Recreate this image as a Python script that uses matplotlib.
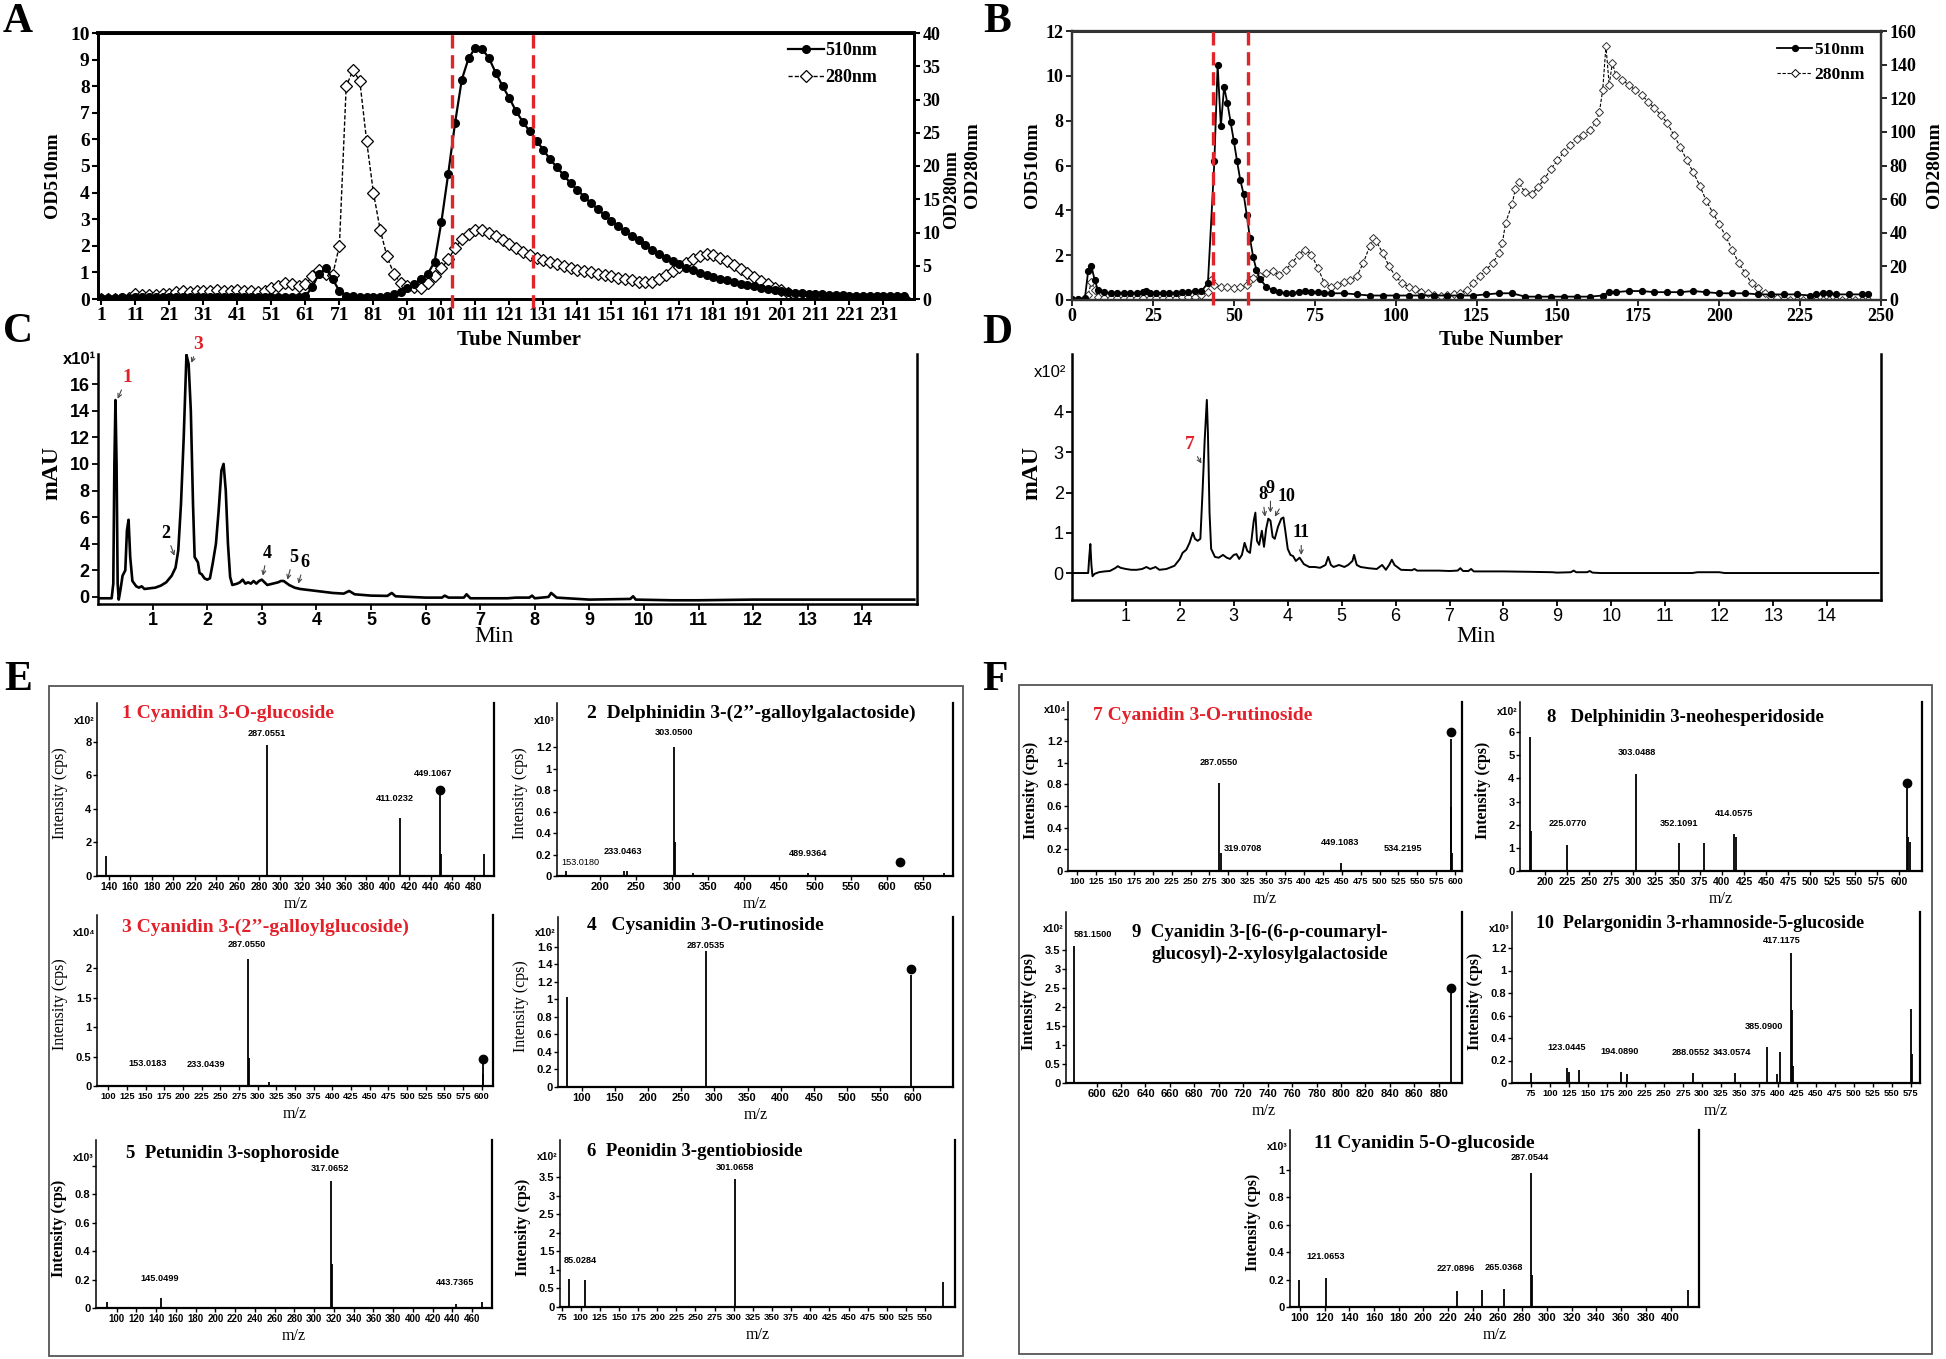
import numpy as np
import matplotlib
matplotlib.use("Agg")
import matplotlib.pyplot as plt
from matplotlib.lines import Line2D
from matplotlib.patches import Rectangle

# ======================= DATA =======================
# Panel A (tube number, OD510 left axis / OD280 right axis)
tubes_A = np.arange(1, 238, 2)
A_510 = [
    0.05, 0.05, 0.05, 0.06, 0.05, 0.06, 0.06, 0.07, 0.06, 0.07,
    0.07, 0.08, 0.07, 0.08, 0.08, 0.08, 0.08, 0.09, 0.08, 0.09,
    0.09, 0.09, 0.08, 0.09, 0.09, 0.08, 0.08, 0.08, 0.09, 0.09,
    0.10, 0.45, 0.95, 1.15, 0.75, 0.30, 0.12, 0.10, 0.08, 0.08,
    0.08, 0.09, 0.12, 0.18, 0.28, 0.42, 0.55, 0.75, 0.95, 1.40,
    2.90, 4.70, 6.60, 8.25, 9.05, 9.45, 9.40, 9.05, 8.50, 8.00,
    7.55, 7.05, 6.65, 6.30, 5.95, 5.60, 5.25, 4.95, 4.65, 4.35,
    4.10, 3.85, 3.60, 3.38, 3.15, 2.95, 2.75, 2.55, 2.37, 2.20,
    2.02, 1.86, 1.70, 1.56, 1.43, 1.30, 1.18, 1.08, 0.99, 0.91,
    0.84, 0.77, 0.70, 0.64, 0.58, 0.52, 0.47, 0.42, 0.38, 0.34,
    0.30, 0.27, 0.24, 0.22, 0.20, 0.18, 0.17, 0.16, 0.15, 0.14,
    0.13, 0.13, 0.12, 0.12, 0.12, 0.11, 0.11, 0.11, 0.10]
A_280 = [
    0, 0, 0, 0, 0.2, 0.8, 0.6, 0.6, 0.6, 0.8,
    0.8, 1.0, 1.2, 1.0, 1.2, 1.2, 1.2, 1.4, 1.2, 1.2,
    1.4, 1.2, 1.2, 1.0, 1.2, 1.6, 2.0, 2.4, 2.2, 2.0,
    2.2, 3.4, 4.4, 3.8, 3.6, 8.0, 32.0, 34.4, 32.8, 23.8,
    16.0, 10.4, 6.4, 3.8, 2.4, 2.0, 1.8, 1.6, 2.4, 3.4,
    4.6, 6.0, 7.6, 9.0, 9.8, 10.4, 10.4, 10.0, 9.4, 8.8,
    8.2, 7.6, 7.1, 6.6, 6.2, 5.9, 5.5, 5.2, 4.9, 4.6,
    4.4, 4.2, 4.0, 3.8, 3.6, 3.4, 3.2, 3.0, 2.8, 2.6,
    2.5, 2.6, 3.0, 3.6, 4.2, 4.8, 5.4, 6.0, 6.5, 6.8,
    6.6, 6.2, 5.7, 5.1, 4.5, 3.9, 3.3, 2.7, 2.2, 1.7,
    1.3, 0.9, 0.6, 0.4, 0.3, 0.2, 0.2, 0.2, 0.2, 0.2,
    0.2, 0.2, 0.2, 0.2, 0.2, 0.2, 0.2, 0.2, 0.2]
A_cut = [104, 128]
A_xticks = list(range(1, 232, 10))

# Panel B (tube, value)
B_510 = [(0, 0.05), (2, 0.05), (4, 0.1), (5, 1.3), (6, 1.5), (7, 0.9), (8, 0.45), (10, 0.35),
         (12, 0.3), (14, 0.3), (16, 0.3), (18, 0.3), (20, 0.3), (22, 0.35), (23, 0.4), (24, 0.3),
         (26, 0.3), (28, 0.3), (30, 0.3), (32, 0.3), (34, 0.35), (36, 0.35), (38, 0.4), (40, 0.4),
         (42, 0.75), (44, 6.2), (45, 10.5), (46, 7.75), (47, 9.5), (48, 8.8), (49, 7.95), (50, 7.1),
         (51, 6.2), (52, 5.35), (53, 4.75), (54, 3.8), (55, 2.75), (56, 1.9), (57, 1.35), (58, 0.95),
         (60, 0.6), (62, 0.45), (64, 0.35), (66, 0.3), (68, 0.3), (70, 0.35), (72, 0.4), (74, 0.35),
         (76, 0.35), (78, 0.3), (80, 0.3), (84, 0.3), (88, 0.25), (92, 0.2), (96, 0.2), (100, 0.2),
         (104, 0.2), (108, 0.2), (112, 0.2), (116, 0.2), (120, 0.2), (124, 0.2), (128, 0.25),
         (132, 0.3), (136, 0.3), (140, 0.15), (144, 0.15), (148, 0.15), (152, 0.15), (156, 0.15),
         (160, 0.15), (164, 0.2), (166, 0.35), (168, 0.35), (172, 0.4), (176, 0.4), (180, 0.35),
         (184, 0.35), (188, 0.35), (192, 0.4), (196, 0.35), (200, 0.3), (204, 0.3), (208, 0.3),
         (212, 0.25), (216, 0.25), (220, 0.25), (224, 0.25), (228, 0.2), (230, 0.25), (232, 0.3),
         (234, 0.3), (236, 0.25), (240, 0.25), (244, 0.25), (246, 0.25)]
B_280 = [(0, 0), (2, 0), (4, 0), (5, 3), (6, 11), (7, 6), (8, 2), (10, 1), (12, 1), (14, 1), (16, 1),
         (18, 1), (20, 1), (22, 1), (24, 1), (26, 1), (28, 1), (30, 1), (32, 1), (34, 2), (36, 2),
         (38, 2), (40, 3), (42, 5), (43, 12), (44, 9), (46, 8), (48, 8), (50, 7), (52, 8), (54, 9),
         (55, 12), (56, 13), (58, 14), (60, 16), (62, 17), (64, 15), (66, 18), (68, 22), (70, 27),
         (72, 30), (74, 27), (76, 19), (78, 10), (80, 8), (82, 9), (84, 11), (86, 12), (88, 14),
         (90, 22), (92, 32), (93, 37), (94, 35), (96, 28), (98, 20), (100, 14), (102, 10), (104, 8),
         (106, 6.5), (108, 5), (110, 4), (112, 3), (114, 2.5), (116, 3), (118, 3.5), (120, 4),
         (122, 6), (124, 10), (126, 14), (128, 18), (130, 22), (132, 28), (133, 34), (134, 46),
         (136, 57), (137, 66), (138, 70), (140, 64), (142, 63), (144, 67), (146, 72), (148, 78),
         (150, 83), (152, 88), (154, 92), (156, 96), (158, 98), (160, 101), (162, 106), (163, 112),
         (164, 125), (165, 151), (166, 128), (167, 141), (168, 134), (170, 131), (172, 128),
         (174, 125), (176, 122), (178, 118), (180, 114), (182, 110), (184, 105), (186, 98),
         (188, 91), (190, 83), (192, 76), (194, 68), (196, 59), (198, 52), (200, 45), (202, 38),
         (204, 30), (206, 22), (208, 16), (210, 10), (212, 7), (214, 4), (216, 2), (218, 1),
         (220, 0.5), (222, 0), (224, 0), (226, 0), (228, 0), (230, 0), (232, 0), (234, 0),
         (236, 0), (238, 0), (240, 0), (242, 0), (244, 0), (246, 0)]
B_cut = [43.5, 54.5]
B_xticks = list(range(0, 251, 25))

# Panel C chromatogram (min, mAU x10)
C_trace = [(0.0, -0.1), (0.25, -0.1), (0.28, 1), (0.3, 10), (0.32, 14.8), (0.34, 10), (0.36, 1),
           (0.38, -0.2), (0.41, 0.5), (0.45, 1.6), (0.5, 2), (0.53, 5), (0.56, 5.8), (0.59, 3),
           (0.63, 1.2), (0.7, 0.8), (0.75, 0.7), (0.8, 0.8), (0.85, 0.6), (0.95, 0.65), (1.05, 0.7),
           (1.15, 0.85), (1.25, 1.1), (1.35, 1.6), (1.42, 2.2), (1.47, 3.5), (1.52, 7), (1.57, 12),
           (1.62, 18.2), (1.66, 17.5), (1.7, 14), (1.74, 7), (1.77, 3), (1.8, 2.8), (1.83, 2.6),
           (1.86, 1.8), (1.9, 1.7), (1.95, 1.4), (2.0, 1.3), (2.05, 1.4), (2.1, 2.5), (2.16, 4),
           (2.21, 6.5), (2.26, 9.5), (2.3, 10), (2.34, 8), (2.38, 4), (2.42, 1.5), (2.46, 0.9),
           (2.55, 1.0), (2.6, 1.1), (2.65, 1.3), (2.7, 1.0), (2.75, 1.1), (2.8, 1.0), (2.85, 1.2),
           (2.9, 1.0), (2.95, 1.2), (3.0, 1.3), (3.05, 1.1), (3.1, 0.9), (3.2, 1.0), (3.3, 1.1),
           (3.35, 1.2), (3.4, 1.2), (3.5, 0.9), (3.6, 0.7), (3.7, 0.6), (3.9, 0.5), (4.1, 0.4),
           (4.3, 0.3), (4.5, 0.25), (4.6, 0.45), (4.7, 0.2), (5.0, 0.1), (5.3, 0.08), (5.38, 0.3),
           (5.45, 0.05), (6.0, -0.05), (6.3, -0.05), (6.35, 0.1), (6.42, -0.05), (6.7, -0.05),
           (6.75, 0.2), (6.82, -0.1), (7.5, -0.1), (7.65, -0.05), (7.9, -0.05), (7.95, 0.1),
           (8.0, -0.1), (8.25, 0.0), (8.3, 0.3), (8.4, -0.05), (9.0, -0.2), (9.75, -0.15),
           (9.8, 0.05), (9.85, -0.2), (10.5, -0.25), (11, -0.25), (12, -0.2), (13, -0.2),
           (14, -0.2), (14.95, -0.2)]
C_labels = ["1", "2", "3", "4", "5", "6"]
C_label_xy = [(0.53, 16.5), (1.25, 4.8), (1.84, 19.0), (3.1, 3.3), (3.58, 3.0), (3.78, 2.6)]
C_arrow_xy = [(0.36, 14.9), (1.4, 3.1), (1.71, 17.6), (3.02, 1.6), (3.47, 1.3), (3.67, 1.0)]
C_label_red = [True, False, True, False, False, False]

# Panel D chromatogram (min, mAU x10^2)
D_trace = [(0.0, 0), (0.3, 0), (0.32, 0.4), (0.34, 0.72), (0.36, 0.2), (0.38, -0.08), (0.42, -0.02),
           (0.5, 0.02), (0.6, 0.04), (0.7, 0.05), (0.8, 0.12), (0.85, 0.17), (0.9, 0.13), (1.0, 0.1),
           (1.1, 0.08), (1.2, 0.08), (1.3, 0.1), (1.38, 0.15), (1.45, 0.1), (1.55, 0.15), (1.62, 0.08),
           (1.75, 0.1), (1.9, 0.18), (2.0, 0.35), (2.05, 0.5), (2.12, 0.58), (2.18, 0.75), (2.24, 1.0),
           (2.28, 0.85), (2.33, 0.8), (2.38, 0.85), (2.42, 2.0), (2.46, 3.3), (2.5, 4.3), (2.52, 3.5),
           (2.55, 1.5), (2.58, 0.6), (2.65, 0.4), (2.72, 0.38), (2.8, 0.45), (2.87, 0.38), (2.93, 0.35),
           (3.0, 0.45), (3.05, 0.47), (3.1, 0.35), (3.15, 0.45), (3.2, 0.75), (3.25, 0.55), (3.3, 0.5),
           (3.37, 1.3), (3.4, 1.5), (3.43, 0.8), (3.47, 0.7), (3.52, 1.05), (3.56, 0.65), (3.6, 1.1),
           (3.64, 1.35), (3.68, 1.3), (3.72, 0.9), (3.76, 0.85), (3.82, 1.15), (3.88, 1.35),
           (3.92, 1.38), (3.96, 1.0), (4.0, 0.6), (4.05, 0.45), (4.1, 0.42), (4.15, 0.3), (4.22, 0.38),
           (4.3, 0.22), (4.4, 0.15), (4.5, 0.15), (4.6, 0.13), (4.7, 0.2), (4.75, 0.4), (4.8, 0.2),
           (4.85, 0.15), (4.95, 0.2), (5.05, 0.15), (5.12, 0.2), (5.2, 0.3), (5.23, 0.45), (5.28, 0.2),
           (5.35, 0.15), (5.5, 0.12), (5.65, 0.1), (5.75, 0.2), (5.82, 0.08), (5.88, 0.2), (5.93, 0.33),
           (5.98, 0.2), (6.1, 0.08), (6.3, 0.07), (6.35, 0.1), (6.4, 0.06), (6.8, 0.06), (7.0, 0.05),
           (7.15, 0.06), (7.2, 0.12), (7.25, 0.05), (7.35, 0.05), (7.4, 0.1), (7.45, 0.04), (7.6, 0.04),
           (8.0, 0.04), (8.5, 0.03), (8.9, 0.02), (9.0, 0.01), (9.25, 0.02), (9.3, 0.06), (9.35, 0.02),
           (9.55, 0.02), (9.6, 0.05), (9.65, 0.01), (9.8, 0.0), (10, 0), (11, 0), (11.5, 0.0),
           (11.6, 0.02), (12.0, 0.02), (12.1, 0.0), (13, 0), (14, 0), (14.95, 0)]
D_labels = ["7", "8", "9", "10", "11"]
D_label_xy = [(2.19, 3.2), (3.53, 1.95), (3.68, 2.1), (3.98, 1.9), (4.25, 1.0)]
D_arrow_xy = [(2.4, 2.72), (3.58, 1.4), (3.68, 1.5), (3.76, 1.4), (4.25, 0.45)]
D_label_red = [True, False, False, False, False]

# MS/MS spectra (m/z, relative intensity in the panel's x10^n units)
s1_title = "1 Cyanidin 3-O-glucoside"
s1_mz = [137, 287.06, 411.02, 449.11, 449.9, 490]
s1_int = [1.2, 7.8, 3.45, 5.0, 1.3, 1.3]
s1_prec = [449.11, 5.1]
s1_ann_text = ["287.0551", "411.0232", "449.1067"]
s1_ann_mz = [287, 407, 442]
s1_ann_y = [8.5, 4.6, 6.1]

s2_title = "2  Delphinidin 3-(2\u2019\u2019-galloylgalactoside)"
s2_mz = [153, 233, 237, 303.05, 304, 330, 490, 618, 680]
s2_int = [0.05, 0.05, 0.05, 1.2, 0.32, 0.03, 0.03, 0.01, 0.03]
s2_prec = [618, 0.13]
s2_ann_text = ["153.0180", "233.0463", "303.0500", "489.9364"]
s2_ann_mz = [172, 232, 303, 490]
s2_ann_y = [0.13, 0.23, 1.34, 0.21]

s3_title = "3 Cyanidin 3-(2\u2019\u2019-galloylglucoside)"
s3_mz = [153, 233, 287.06, 288, 315, 601, 602]
s3_int = [0.01, 0.01, 2.15, 0.48, 0.06, 0.42, 0.2]
s3_prec = [601, 0.45]
s3_ann_text = ["153.0183", "233.0439", "287.0550"]
s3_ann_mz = [153, 231, 286]
s3_ann_y = [0.39, 0.37, 2.4]

s4_title = "4   Cysanidin 3-O-rutinoside"
s4_mz = [77, 287.05, 597]
s4_int = [1.03, 1.55, 1.28]
s4_prec = [597, 1.35]
s4_ann_text = ["287.0535"]
s4_ann_mz = [287]
s4_ann_y = [1.61]

s5_title = "5  Petunidin 3-sophoroside"
s5_mz = [90, 145.05, 317.07, 317.6, 443.7, 470]
s5_int = [0.04, 0.07, 0.89, 0.31, 0.03, 0.04]
s5_prec = None
s5_ann_text = ["145.0499", "317.0652", "443.7365"]
s5_ann_mz = [143, 316, 443]
s5_ann_y = [0.21, 0.98, 0.18]

s6_title = "6  Peonidin 3-gentiobioside"
s6_mz = [85.03, 106, 301.07, 573]
s6_int = [0.75, 0.73, 3.45, 0.68]
s6_prec = None
s6_ann_text = ["85.0284", "301.0658"]
s6_ann_mz = [100, 301]
s6_ann_y = [1.24, 3.75]

s7_title = "7 Cyanidin 3-O-rutinoside"
s7_mz = [287.06, 290, 449.11, 594, 595, 596]
s7_int = [0.81, 0.17, 0.07, 1.22, 0.59, 0.17]
s7_prec = [594, 1.28]
s7_ann_text = ["287.0550", "319.0708", "449.1083", "534.2195"]
s7_ann_mz = [288, 319, 448, 531]
s7_ann_y = [1.0, 0.21, 0.26, 0.21]

s8_title = "8   Delphinidin 3-neohesperidoside"
s8_mz = [183, 184.5, 225.08, 303.05, 352.11, 380, 414.06, 416, 609, 610.5, 613]
s8_int = [5.8, 1.73, 1.12, 4.18, 1.2, 1.2, 1.6, 1.45, 3.58, 1.46, 1.25]
s8_prec = [609, 3.8]
s8_ann_text = ["225.0770", "303.0488", "352.1091", "414.0575"]
s8_ann_mz = [226, 304, 352, 414]
s8_ann_y = [2.05, 5.1, 2.07, 2.5]

s9_title = ["9  Cyanidin 3-[6-(6-\u03c1-coumaryl-", "glucosyl)-2-xylosylgalactoside"]
s9_mz = [581.15, 890]
s9_int = [3.6, 2.37]
s9_prec = [890, 2.5]
s9_ann_text = ["581.1500"]
s9_ann_mz = [597]
s9_ann_y = [3.9]

s10_title = "10  Pelargonidin 3-rhamnoside-5-glucoside"
s10_mz = [75, 123.04, 125, 138, 194.09, 201, 288.06, 343.06, 385.09, 399, 403, 417.12, 418.5, 420, 575, 577]
s10_int = [0.09, 0.13, 0.10, 0.12, 0.10, 0.08, 0.09, 0.09, 0.32, 0.08, 0.28, 1.16, 0.65, 0.15, 0.66, 0.26]
s10_prec = None
s10_ann_text = ["123.0445", "194.0890", "288.0552", "343.0574", "385.0900", "417.1175"]
s10_ann_mz = [122, 192, 285, 339, 382, 405]
s10_ann_y = [0.32, 0.28, 0.27, 0.27, 0.50, 1.27]

s11_title = "11 Cyanidin 5-O-glucoside"
s11_mz = [99, 121.07, 227.09, 247, 265.04, 287.05, 288, 414]
s11_int = [0.2, 0.21, 0.12, 0.125, 0.13, 0.98, 0.23, 0.125]
s11_prec = None
s11_ann_text = ["121.0653", "227.0896", "265.0368", "287.0544"]
s11_ann_mz = [121, 226, 265, 286]
s11_ann_y = [0.37, 0.28, 0.29, 1.09]

# ======================= FIGURE =======================
W, H = 1946, 1359
fig = plt.figure(figsize=(W / 100, H / 100), dpi=100)
fig.patch.set_facecolor("white")

SERIF = ["Liberation Serif", "DejaVu Serif"]
NARROW = ["Liberation Sans Narrow", "Liberation Sans", "DejaVu Sans"]
RED = "#e3202a"
CUTRED = "#e0262b"


def px_axes(l, t, r, b):
    return fig.add_axes([l / W, 1 - b / H, (r - l) / W, (b - t) / H])


def ftext(x, y, s, **kw):
    return fig.text(x / W, 1 - y / H, s, **kw)


def fmt(v):
    return ("%g" % round(v, 3))


# ---------- panel letters ----------
for letter, (x, y) in zip("ABCDEF", [(18, 22), (997, 22), (18, 332), (997, 333), (18, 680), (995, 680)]):
    ftext(x, y, letter, fontsize=30, fontweight="bold", family=SERIF, ha="center", va="center")

# ---------- Panel A ----------
axA = px_axes(98, 33, 914, 299)
axA2 = axA.twinx()
axA2.plot(tubes_A, A_280, color="black", lw=1.0, ls=(0, (3, 1.5)), marker="D", ms=6,
          mfc="white", mec="black", mew=0.9, zorder=2)
axA.plot(tubes_A, A_510, color="black", lw=1.6, marker="o", ms=5.5, mfc="black", mec="black", zorder=3)
axA.set_zorder(axA2.get_zorder() + 1)
axA.patch.set_visible(False)
axA.set_xlim(0, 240)
axA.set_ylim(0, 10)
axA2.set_ylim(0, 40)
axA.set_xticks(A_xticks, labels=[str(v) for v in A_xticks], fontsize=14, fontweight="bold", family=SERIF)
axA.set_yticks(range(0, 11), labels=[str(v) for v in range(0, 11)], fontsize=14, fontweight="bold", family=SERIF)
axA2.set_yticks(range(0, 41, 5), labels=[str(v) for v in range(0, 41, 5)], fontsize=13, fontweight="bold", family=SERIF)
for a in (axA, axA2):
    for s in a.spines.values():
        s.set_linewidth(2.0)
    a.tick_params(direction="out", length=4, width=1.5, pad=2)
axA.spines["top"].set_linewidth(2.8)
for xc in A_cut:
    axA.axvline(xc, ymin=-0.035, ymax=1.0, color=CUTRED, lw=2.4, ls=(0, (4, 2)), clip_on=False, zorder=5)
hA = [Line2D([], [], color="black", lw=1.6, marker="o", ms=5.5),
      Line2D([], [], color="black", lw=1.0, ls=(0, (3, 1.5)), marker="D", ms=6, mfc="white", mew=0.9)]
axA.legend(hA, ["510nm", "280nm"], loc="upper left", bbox_to_anchor=(0.845, 0.965), frameon=False,
           prop=dict(family=SERIF, weight="bold", size=13), handlelength=2.0, handletextpad=0.1,
           labelspacing=0.55, borderpad=0, borderaxespad=0)
ftext(52, 175, "OD510nm", rotation=90, fontsize=14, fontweight="bold", family=SERIF, ha="center", va="center")
ftext(952, 190, "OD280nm", rotation=90, fontsize=13, fontweight="bold", family=SERIF, ha="center", va="center")
ftext(519, 340, "Tube Number", fontsize=15, fontweight="bold", family=SERIF, ha="center", va="center")

# ---------- Panel B ----------
b510 = np.array(B_510)
b280 = np.array(B_280)
axB = px_axes(1072, 31, 1881, 300)
axB2 = axB.twinx()
axB2.plot(b280[:, 0], b280[:, 1], color="black", lw=0.8, ls=(0, (3, 1.5)), marker="D", ms=4.5,
          mfc="white", mec="#333333", mew=0.7)
axB.plot(b510[:, 0], b510[:, 1], color="black", lw=1.3, marker="o", ms=4.2, mfc="black", mec="black")
axB.set_zorder(axB2.get_zorder() + 1)
axB.patch.set_visible(False)
axB.set_xlim(0, 250)
axB.set_ylim(0, 12)
axB2.set_ylim(0, 160)
axB.set_xticks(B_xticks, labels=[str(v) for v in B_xticks], fontsize=13, fontweight="bold", family=SERIF)
axB.set_yticks(range(0, 13, 2), labels=[str(v) for v in range(0, 13, 2)], fontsize=13, fontweight="bold", family=SERIF)
axB2.set_yticks(range(0, 161, 20), labels=[str(v) for v in range(0, 161, 20)], fontsize=13, fontweight="bold", family=SERIF)
for a in (axB, axB2):
    for s in a.spines.values():
        s.set_linewidth(1.6)
        s.set_color("#333333")
    a.tick_params(direction="out", length=4, width=1.2, pad=2)
axB.spines["top"].set_linewidth(2.2)
for xc in B_cut:
    axB.axvline(xc, ymin=-0.02, ymax=1.022, color=CUTRED, lw=2.4, ls=(0, (4, 2)), clip_on=False, zorder=5)
hB = [Line2D([], [], color="black", lw=1.3, marker="o", ms=4.2),
      Line2D([], [], color="black", lw=0.8, ls=(0, (3, 1.5)), marker="D", ms=4.5, mfc="white", mew=0.7)]
axB.legend(hB, ["510nm", "280nm"], loc="upper left", bbox_to_anchor=(0.872, 0.96), frameon=False,
           prop=dict(family=SERIF, weight="bold", size=12.5), handlelength=2.0, handletextpad=0.1,
           labelspacing=0.5, borderpad=0, borderaxespad=0)
ftext(972, 165, "OD280nm", rotation=90, fontsize=14, fontweight="bold", family=SERIF, ha="center", va="center")
ftext(1032, 165, "OD510nm", rotation=90, fontsize=14, fontweight="bold", family=SERIF, ha="center", va="center")
ftext(1935, 165, "OD280nm", rotation=90, fontsize=14, fontweight="bold", family=SERIF, ha="center", va="center")
ftext(1501, 340, "Tube Number", fontsize=15, fontweight="bold", family=SERIF, ha="center", va="center")


# ---------- Chromatograms ----------
def chromatogram(box, trace, ylim, yticks, bold, lw, labels, lxy, axy, red, exp_txt, exp_xy, min_xy, mau_xy):
    ax = px_axes(*box)
    tr = np.array(trace)
    ax.plot(tr[:, 0], tr[:, 1], color="black", lw=lw, solid_joinstyle="round")
    ax.set_xlim(0, 15)
    ax.set_ylim(*ylim)
    ax.spines["top"].set_visible(False)
    for s in ("left", "right", "bottom"):
        ax.spines[s].set_linewidth(1.8)
    w = "bold" if bold else "normal"
    ax.set_xticks(range(1, 15), labels=[str(v) for v in range(1, 15)], fontsize=13, fontweight=w, family=NARROW)
    ax.set_yticks(yticks, labels=[str(v) for v in yticks], fontsize=13, fontweight=w, family=NARROW)
    ax.tick_params(direction="out", length=4, width=1.3, pad=2)
    for lab, (tx, ty), (ax_, ay), isred in zip(labels, lxy, axy, red):
        ax.annotate(lab, xy=(ax_, ay), xytext=(tx, ty), ha="center", va="center",
                    fontsize=14 if isred else 13, fontweight="bold", family=SERIF,
                    color=RED if isred else "black", annotation_clip=False,
                    arrowprops=dict(arrowstyle="->", color="#444444", lw=0.8, shrinkA=1, shrinkB=0,
                                    mutation_scale=7))
    ftext(exp_xy[0], exp_xy[1], exp_txt, fontsize=12, fontweight=w, family=NARROW, ha="right", va="center")
    ftext(min_xy[0], min_xy[1], "Min", fontsize=17, family=SERIF, ha="center", va="center")
    ftext(mau_xy[0], mau_xy[1], "mAU", fontsize=17, fontweight="bold", family=SERIF, rotation=90,
          ha="center", va="center")
    return ax


chromatogram((98, 354, 917, 604), C_trace, (-0.53, 18.26), list(range(0, 17, 2)), True, 1.9,
             C_labels, C_label_xy, C_arrow_xy, C_label_red, "x10\u00b9", (96, 360), (494, 637), (52, 473))
chromatogram((1072, 354, 1881, 600), D_trace, (-0.67, 5.44), [0, 1, 2, 3, 4], False, 1.4,
             D_labels, D_label_xy, D_arrow_xy, D_label_red, "x10\u00b2", (1066, 372), (1476, 637), (1032, 473))

# ---------- frames for E and F ----------
for (l, t, r, b) in [(49, 686, 963, 1356), (1019, 685, 1932, 1354)]:
    fig.add_artist(Rectangle((l / W, 1 - b / H), (r - l) / W, (b - t) / H, transform=fig.transFigure,
                             fill=False, ec="#555555", lw=1.3))

SPECTRA = [
    dict(box=(97, 703, 494, 876), xlim=(129, 499), ylim=(0, 10.3), xt=list(range(140, 481, 20)), xs=7.5,
         yt=[0, 2, 4, 6, 8], ytx=[], mz=s1_mz, it=s1_int, prec=s1_prec, at=s1_ann_text, amz=s1_ann_mz,
         ay=s1_ann_y, title=s1_title, tx=122, ty=713, tc=RED, ts=14, exp="x10\u00b2", ey=721, yb=False),
    dict(box=(557, 703, 953, 876), xlim=(140, 692), ylim=(0, 1.61), xt=list(range(200, 651, 50)), xs=8,
         yt=[0, 0.2, 0.4, 0.6, 0.8, 1.0, 1.2], ytx=[], mz=s2_mz, it=s2_int, prec=s2_prec, at=s2_ann_text,
         amz=s2_ann_mz, ay=s2_ann_y, title=s2_title, tx=587, ty=713, tc="black", ts=14, exp="x10\u00b3",
         ey=721, yb=False),
    dict(box=(97, 915, 493, 1086), xlim=(85, 615), ylim=(0, 2.9), xt=list(range(100, 601, 25)), xs=6.7,
         yt=[0, 0.5, 1, 1.5, 2], ytx=[], mz=s3_mz, it=s3_int, prec=s3_prec, at=s3_ann_text, amz=s3_ann_mz,
         ay=s3_ann_y, title=s3_title, tx=122, ty=927, tc=RED, ts=14, exp="x10\u2074", ey=933, yb=False),
    dict(box=(558, 917, 953, 1087), xlim=(64, 660), ylim=(0, 1.94), xt=list(range(100, 601, 50)), xs=8,
         yt=[0, 0.2, 0.4, 0.6, 0.8, 1.0, 1.2, 1.4, 1.6], ytx=[], mz=s4_mz, it=s4_int, prec=s4_prec,
         at=s4_ann_text, amz=s4_ann_mz, ay=s4_ann_y, title=s4_title, tx=587, ty=926, tc="black", ts=14,
         exp="x10\u00b2", ey=933, yb=False),
    dict(box=(96, 1140, 492, 1308), xlim=(79, 480), ylim=(0, 1.18), xt=list(range(100, 461, 20)), xs=7,
         yt=[0, 0.2, 0.4, 0.6, 0.8], ytx=[1.0], mz=s5_mz, it=s5_int, prec=s5_prec, at=s5_ann_text,
         amz=s5_ann_mz, ay=s5_ann_y, title=s5_title, tx=126, ty=1153, tc="black", ts=13.5,
         exp="x10\u00b3", ey=1158, yb=True),
    dict(box=(560, 1140, 955, 1307), xlim=(73, 589), ylim=(0, 4.5), xt=list(range(75, 551, 25)), xs=6.8,
         yt=[0, 0.5, 1, 1.5, 2, 2.5, 3, 3.5], ytx=[], mz=s6_mz, it=s6_int, prec=s6_prec, at=s6_ann_text,
         amz=s6_ann_mz, ay=s6_ann_y, title=s6_title, tx=587, ty=1152, tc="black", ts=13.5,
         exp="x10\u00b2", ey=1157, yb=True),
    dict(box=(1068, 702, 1462, 871), xlim=(88, 609), ylim=(0, 1.56), xt=list(range(100, 601, 25)), xs=6.7,
         yt=[0, 0.2, 0.4, 0.6, 0.8, 1.0, 1.2], ytx=[1.4], mz=s7_mz, it=s7_int, prec=s7_prec,
         at=s7_ann_text, amz=s7_ann_mz, ay=s7_ann_y, title=s7_title, tx=1093, ty=716, tc=RED, ts=14,
         exp="x10\u2074", ey=710, yb=True),
    dict(box=(1520, 702, 1922, 871), xlim=(172, 626), ylim=(0, 7.3), xt=list(range(200, 601, 25)), xs=7.5,
         yt=[0, 1, 2, 3, 4, 5, 6], ytx=[], mz=s8_mz, it=s8_int, prec=s8_prec, at=s8_ann_text,
         amz=s8_ann_mz, ay=s8_ann_y, title=s8_title, tx=1547, ty=717, tc="black", ts=13.5,
         exp="x10\u00b2", ey=712, yb=True),
    dict(box=(1066, 912, 1462, 1083), xlim=(575, 899), ylim=(0, 4.5), xt=list(range(600, 881, 20)), xs=8,
         yt=[0, 0.5, 1, 1.5, 2, 2.5, 3, 3.5], ytx=[], mz=s9_mz, it=s9_int, prec=s9_prec, at=s9_ann_text,
         amz=s9_ann_mz, ay=s9_ann_y, title=s9_title, tx=1132, ty=932, tc="black", ts=13.5,
         exp="x10\u00b2", ey=929, yb=True),
    dict(box=(1512, 912, 1920, 1083), xlim=(50, 587), ylim=(0, 1.52), xt=list(range(75, 576, 25)), xs=6.7,
         yt=[0, 0.2, 0.4, 0.6, 0.8, 1.0, 1.2], ytx=[], mz=s10_mz, it=s10_int, prec=s10_prec,
         at=s10_ann_text, amz=s10_ann_mz, ay=s10_ann_y, title=s10_title, tx=1536, ty=923, tc="black",
         ts=13, exp="x10\u00b3", ey=929, yb=True),
    dict(box=(1290, 1130, 1699, 1307), xlim=(92, 423), ylim=(0, 1.29), xt=list(range(100, 401, 20)), xs=8,
         yt=[0, 0.2, 0.4, 0.6, 0.8, 1.0], ytx=[], mz=s11_mz, it=s11_int, prec=s11_prec,
         at=s11_ann_text, amz=s11_ann_mz, ay=s11_ann_y, title=s11_title, tx=1314, ty=1143, tc="black",
         ts=14, exp="x10\u00b3", ey=1147, yb=True),
]

for sp in SPECTRA:
    l, t, r, b = sp["box"]
    ax = px_axes(l, t, r, b)
    ax.vlines(sp["mz"], 0, sp["it"], colors="black", lw=1.3)
    if sp["prec"] is not None:
        ax.plot([sp["prec"][0]], [sp["prec"][1]], "o", color="black", ms=6, clip_on=False)
    ax.set_xlim(*sp["xlim"])
    ax.set_ylim(*sp["ylim"])
    ax.spines["top"].set_visible(False)
    ax.spines["left"].set_linewidth(1.1)
    ax.spines["right"].set_linewidth(1.6)
    ax.spines["bottom"].set_linewidth(1.6)
    ax.set_xticks(sp["xt"], labels=[fmt(v) for v in sp["xt"]], fontsize=sp["xs"], fontweight="bold",
                  family=NARROW)
    yt_all = sp["yt"] + sp["ytx"]
    ylabs = [fmt(v) for v in sp["yt"]] + ["" for _ in sp["ytx"]]
    ax.set_yticks(yt_all, labels=ylabs, fontsize=8, fontweight="bold", family=NARROW)
    ax.tick_params(direction="out", length=3, width=1.0, pad=1)
    ax.yaxis.set_ticks_position("left")
    for txt, xm, ym in zip(sp["at"], sp["amz"], sp["ay"]):
        wgt = "normal" if txt == "153.0180" else "bold"
        ax.text(xm, ym, txt, ha="center", va="center", fontsize=6.6, fontweight=wgt, family=NARROW,
                clip_on=False)
    if isinstance(sp["title"], list):
        ftext(sp["tx"], sp["ty"], sp["title"][0], fontsize=sp["ts"], fontweight="bold", family=SERIF,
              color=sp["tc"], ha="left", va="center")
        ftext(sp["tx"] + 19, sp["ty"] + 22, sp["title"][1], fontsize=sp["ts"], fontweight="bold",
              family=SERIF, color=sp["tc"], ha="left", va="center")
    else:
        ftext(sp["tx"], sp["ty"], sp["title"], fontsize=sp["ts"], fontweight="bold", family=SERIF,
              color=sp["tc"], ha="left", va="center")
    ftext(l - 2, sp["ey"], sp["exp"], fontsize=7.5, fontweight="bold", family=NARROW, ha="right", va="center")
    ftext(l - 37, (t + b) / 2 + 4, "Intensity (cps)", rotation=90, fontsize=11.5,
          fontweight="bold" if sp["yb"] else "normal", family=SERIF, ha="center", va="center")
    ftext((l + r) / 2, b + 28, "m/z", fontsize=11.5, family=SERIF, ha="center", va="center")

fig.savefig("out.png", dpi=100, facecolor="white")
